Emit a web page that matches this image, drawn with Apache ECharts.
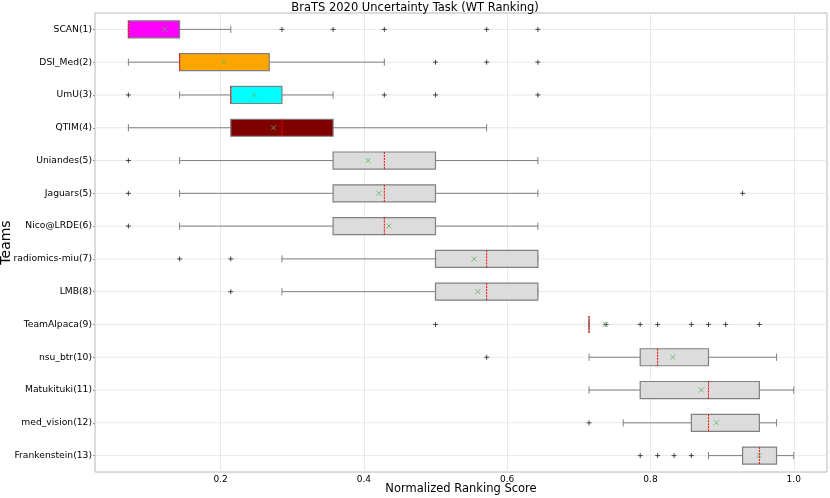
<!DOCTYPE html>
<html>
<head>
<meta charset="utf-8">
<script src="https://cdn.jsdelivr.net/npm/echarts@6/dist/echarts.min.js"></script>
<style>
  html, body { margin: 0; padding: 0; background: #fff; }
  #chart { width: 830px; height: 498px; }
</style>
</head>
<body>
<div id="chart"></div>
<script>
// --- donnees ---
const teams = ['SCAN(1)', 'DSI_Med(2)', 'UmU(3)', 'QTIM(4)', 'Uniandes(5)', 'Jaguars(5)', 'Nico@LRDE(6)',
    'radiomics-miu(7)', 'LMB(8)', 'TeamAlpaca(9)', 'nsu_btr(10)', 'Matukituki(11)', 'med_vision(12)', 'Frankenstein(13)'];
const lowWhisker  = [0.0714, 0.0714, 0.1429, 0.0714, 0.1429, 0.1429, 0.1429, 0.2857, 0.2857, 0.7143, 0.7143, 0.7143, 0.762, 0.881];
const q1          = [0.0714, 0.1429, 0.2143, 0.2143, 0.3571, 0.3571, 0.3571, 0.5, 0.5, 0.7143, 0.7857, 0.7857, 0.8571, 0.9286];
const medians     = [0.0714, 0.1429, 0.2143, 0.2857, 0.4286, 0.4286, 0.4286, 0.5714, 0.5714, 0.7143, 0.81, 0.881, 0.881, 0.952];
const q3          = [0.1429, 0.268, 0.2857, 0.3571, 0.5, 0.5, 0.5, 0.6429, 0.6429, 0.7143, 0.881, 0.952, 0.952, 0.976];
const highWhisker = [0.2143, 0.4286, 0.3571, 0.5714, 0.6429, 0.6429, 0.6429, 0.6429, 0.6429, 0.7143, 0.976, 1.0, 0.976, 1.0];
const means       = [0.122, 0.204, 0.247, 0.274, 0.406, 0.421, 0.435, 0.554, 0.559, 0.737, 0.831, 0.871, 0.892, 0.9516];
const outliers = [
    [0.2857, 0.3571, 0.4286, 0.5714, 0.6429],
    [0.5, 0.5714, 0.6429],
    [0.0714, 0.4286, 0.5, 0.6429],
    [],
    [0.0714],
    [0.0714, 0.9286],
    [0.0714],
    [0.1429, 0.2143],
    [0.2143],
    [0.5, 0.738, 0.7857, 0.81, 0.8571, 0.881, 0.905, 0.952],
    [0.5714],
    [],
    [0.7143],
    [0.7857, 0.81, 0.833, 0.8571]
];
const boxColors = ['#ff00ff', '#ffa500', '#00ffff', '#800000', '#dcdcdc', '#dcdcdc', '#dcdcdc',
    '#dcdcdc', '#dcdcdc', '#dcdcdc', '#dcdcdc', '#dcdcdc', '#dcdcdc', '#dcdcdc'];
const xTicks = [0.2, 0.4, 0.6, 0.8, 1.0];

const FONT = 'DejaVu Sans';

const boxData = teams.map((t, i) => [i, lowWhisker[i], q1[i], medians[i], q3[i], highWhisker[i]]);
const meanData = means.map((m, i) => [m, i]);
const outlierData = [];
outliers.forEach((arr, i) => arr.forEach(v => outlierData.push([v, i])));

function renderBox(params, api) {
    const i = api.value(0);
    const band = api.size([0, 1])[1];
    const h = band * 0.52;
    const cap = band * 0.22;
    const cs = params.coordSys;
    const pLo = api.coord([api.value(1), i]);
    const pQ1 = api.coord([api.value(2), i]);
    const pMed = api.coord([api.value(3), i]);
    const pQ3 = api.coord([api.value(4), i]);
    const pHi = api.coord([api.value(5), i]);
    const y = pMed[1];
    const grey = '#808080';
    return {
        type: 'group',
        children: [
            // ligne de grille horizontale
            { type: 'line', shape: { x1: cs.x, y1: y, x2: cs.x + cs.width, y2: y },
              style: { stroke: '#e8e8e8', lineWidth: 1 }, z2: 0 },
            { type: 'line', shape: { x1: pLo[0], y1: y, x2: pQ1[0], y2: y }, style: { stroke: grey, lineWidth: 1 }, z2: 1 },
            { type: 'line', shape: { x1: pQ3[0], y1: y, x2: pHi[0], y2: y }, style: { stroke: grey, lineWidth: 1 }, z2: 1 },
            { type: 'line', shape: { x1: pLo[0], y1: y - cap / 2, x2: pLo[0], y2: y + cap / 2 }, style: { stroke: grey, lineWidth: 1 }, z2: 1 },
            { type: 'line', shape: { x1: pHi[0], y1: y - cap / 2, x2: pHi[0], y2: y + cap / 2 }, style: { stroke: grey, lineWidth: 1 }, z2: 1 },
            { type: 'rect', shape: { x: pQ1[0], y: y - h / 2, width: pQ3[0] - pQ1[0], height: h },
              style: { fill: boxColors[i], stroke: grey, lineWidth: 1.2 }, z2: 2 },
            { type: 'line', shape: { x1: pMed[0], y1: y - h / 2, x2: pMed[0], y2: y + h / 2 },
              style: { stroke: '#ff0000', lineWidth: 1, lineDash: [2, 1] }, z2: 3 }
        ]
    };
}

const chart = echarts.init(document.getElementById('chart'));
chart.setOption({
    animation: false,
    title: {
        text: 'BraTS 2020 Uncertainty Task (WT Ranking)',
        left: 'center', top: 2, padding: 0,
        textStyle: { fontFamily: FONT, fontSize: 11.5, fontWeight: 'normal', color: '#000' }
    },
    grid: { left: 95, right: 3, top: 13, bottom: 26, show: true, borderColor: '#b8b8b8', borderWidth: 1,
            outerBoundsMode: 'none', containLabel: false },
    xAxis: {
        type: 'value',
        min: 0.0248, max: 1.0464,
        name: 'Normalized Ranking Score',
        nameLocation: 'middle', nameGap: 11, nameMoveOverlap: false,
        nameTextStyle: { fontFamily: FONT, fontSize: 11.5, color: '#000' },
        axisLine: { show: false },
        axisTick: { show: true, length: 0, customValues: xTicks },
        axisLabel: { customValues: xTicks, formatter: v => v.toFixed(1), fontFamily: FONT, fontSize: 9, color: '#000', margin: 3 },
        splitLine: { show: true, lineStyle: { color: '#e8e8e8' } }
    },
    yAxis: {
        type: 'category',
        data: teams,
        inverse: true,
        name: 'Teams',
        nameLocation: 'middle', nameGap: 82, nameRotate: 90, nameMoveOverlap: false,
        nameTextStyle: { fontFamily: FONT, fontSize: 14, color: '#000' },
        axisLine: { show: false },
        axisTick: { show: true, length: 2, alignWithLabel: true, lineStyle: { color: '#999' } },
        axisLabel: { fontFamily: FONT, fontSize: 9.2, color: '#000', margin: 3 },
        splitLine: { show: false }
    },
    series: [
        {
            type: 'custom',
            renderItem: renderBox,
            data: boxData,
            encode: { x: [1, 2, 3, 4, 5], y: 0 },
            z: 2
        },
        {
            type: 'scatter',
            data: outlierData,
            symbol: 'path://M5,0L5,10M0,5L10,5',
            symbolSize: 5,
            itemStyle: { color: 'rgba(0,0,0,0)', borderColor: '#222', borderWidth: 1 },
            z: 4
        },
        {
            type: 'scatter',
            data: meanData,
            symbol: 'path://M0,0L10,10M10,0L0,10',
            symbolSize: 5,
            itemStyle: { color: 'rgba(0,0,0,0)', borderColor: '#5cb85c', borderWidth: 1 },
            z: 5
        }
    ]
});
window.addEventListener('resize', () => chart.resize());
</script>
</body>
</html>
